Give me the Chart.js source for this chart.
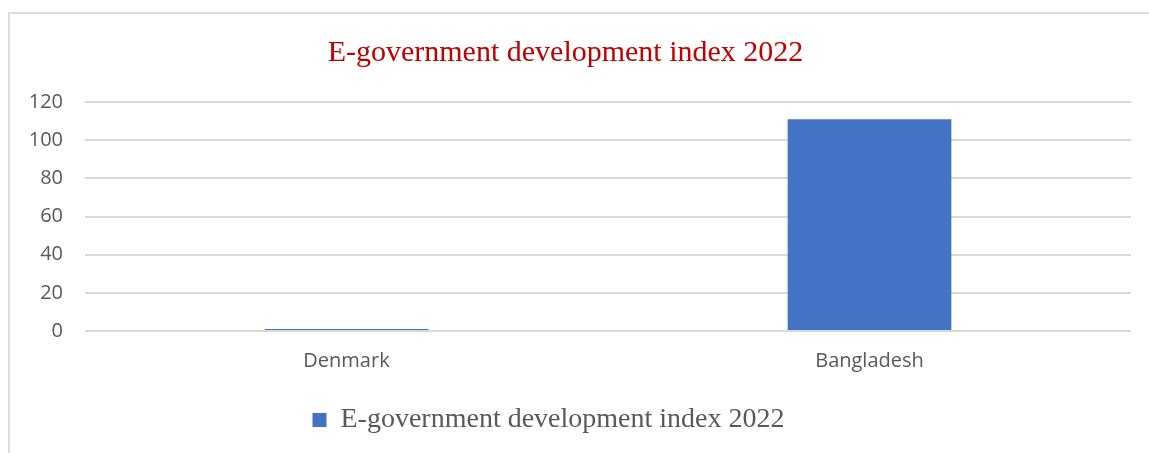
<!DOCTYPE html>
<html>
<head>
<meta charset="utf-8">
<script src="https://cdn.jsdelivr.net/npm/chart.js@4/dist/chart.umd.min.js"></script>
<style>
  html, body { margin: 0; padding: 0; background: #ffffff; }
  #wrap { position: relative; width: 1149px; height: 453px; overflow: hidden; }
  #frame { position: absolute; left: 8px; top: 12px; width: 1200px; height: 500px;
           border-top: 2px solid #dcdcdc; border-left: 2px solid #dcdcdc; box-sizing: border-box; }
  #c { position: absolute; left: 0; top: 0; }
</style>
</head>
<body>
<div id="wrap">
  <div id="frame"></div>
  <canvas id="c" width="1149" height="453"></canvas>
</div>
<script>
const categories = ['Denmark', 'Bangladesh'];
const seriesName = 'E-government development index 2022';
const seriesValues = [1, 111];
const yTicks = [0, 20, 40, 60, 80, 100, 120];
const chartTitle = 'E-government development index 2022';

const legendShift = {
  id: 'legendShift',
  afterLayout(chart) {
    if (chart.legend) {
      chart.legend.left -= 17;
      chart.legend.right -= 17;
    }
  }
};

new Chart(document.getElementById('c'), {
  type: 'bar',
  data: {
    labels: categories,
    datasets: [{
      label: seriesName,
      data: seriesValues,
      backgroundColor: '#4472C4',
      borderWidth: 0,
      barPercentage: 0.313,
      categoryPercentage: 1.0
    }]
  },
  plugins: [legendShift],
  options: {
    responsive: false,
    animation: false,
    devicePixelRatio: 1,
    layout: { padding: { left: 0, right: 18, top: 0, bottom: 9 } },
    plugins: {
      title: {
        display: true,
        text: chartTitle,
        color: '#C00000',
        font: { family: '"Liberation Serif", "Times New Roman", serif', size: 30, weight: 'normal' },
        padding: { top: 35, bottom: 31 }
      },
      legend: {
        display: true,
        position: 'bottom',
        labels: {
          color: '#595959',
          font: { family: '"Liberation Serif", "Times New Roman", serif', size: 28 },
          boxWidth: 14,
          boxHeight: 14,
          padding: 10
        }
      },
      tooltip: { enabled: false }
    },
    scales: {
      x: {
        grid: { display: false, drawTicks: false },
        border: { display: false },
        ticks: {
          color: '#595959',
          font: { family: '"Open Sans", sans-serif', size: 20 },
          padding: 18
        },
        afterFit(axis) { axis.height = 65; }
      },
      y: {
        min: 0,
        max: 120,
        afterBuildTicks(axis) { axis.ticks = yTicks.map(v => ({ value: v })); },
        grid: { color: '#d9d9d9', lineWidth: 2, drawTicks: false },
        border: { display: false },
        ticks: {
          color: '#595959',
          font: { family: '"Open Sans", sans-serif', size: 20 },
          padding: 22
        },
        afterFit(axis) { axis.width = 85; }
      }
    }
  }
});
</script>
</body>
</html>
